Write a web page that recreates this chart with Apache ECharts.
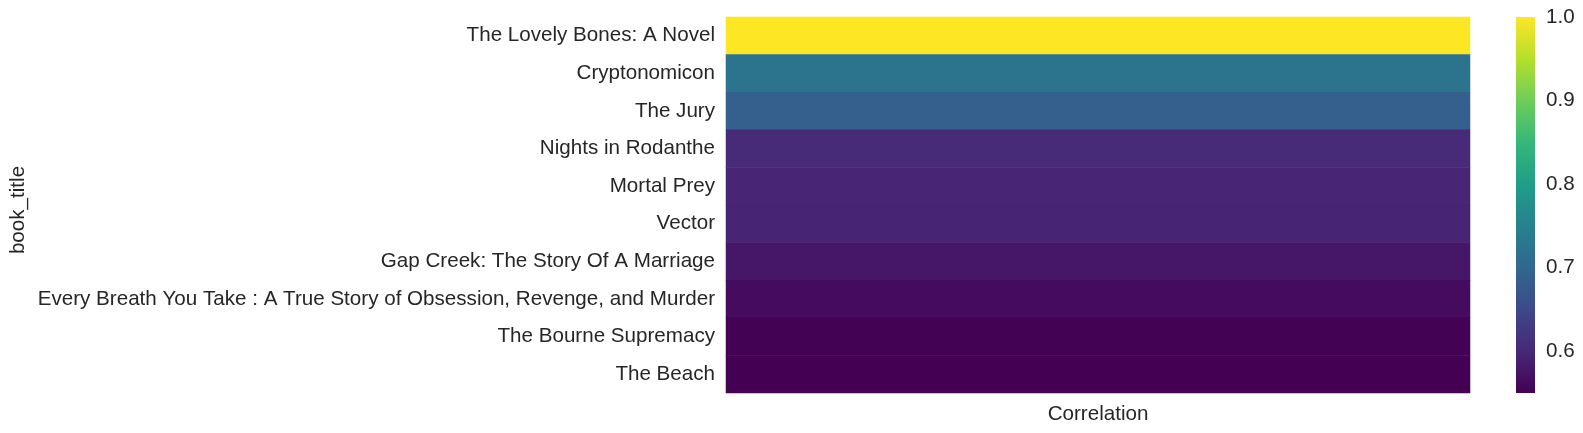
<!DOCTYPE html>
<html>
<head>
<meta charset="utf-8">
<script src="https://cdn.jsdelivr.net/npm/echarts@6/dist/echarts.min.js"></script>
<style>html,body{margin:0;padding:0;background:#fff}#c{width:1583px;height:433px}</style>
</head>
<body>
<div id="c"></div>
<script>
const columns = ['Correlation'];
const bookTitles = [
  'The Lovely Bones: A Novel',
  'Cryptonomicon',
  'The Jury',
  'Nights in Rodanthe',
  'Mortal Prey',
  'Vector',
  'Gap Creek: The Story Of A Marriage',
  'Every Breath You Take : A True Story of Obsession, Revenge, and Murder',
  'The Bourne Supremacy',
  'The Beach'
];
const correlation = [1.0, 0.722, 0.686, 0.604, 0.596, 0.594, 0.578, 0.563, 0.551, 0.550];
const colorbarTicks = [0.6, 0.7, 0.8, 0.9, 1.0];
const scaleMin = 0.5497;
const scaleMax = 1.0;
const viridis = ['#440154','#482878','#3e4989','#31688e','#26828e','#1f9e89','#35b779','#6ece58','#b5de2b','#fde725'];

const heatData = correlation.map((v, i) => [0, i, v]);
const txt = '#262626';
const font = 'Liberation Sans, Arial, sans-serif';
const fs = 20.6;

const chart = echarts.init(document.getElementById('c'), null, {renderer: 'canvas'});
chart.setOption({
  backgroundColor: '#fff',
  animation: false,
  grid: [
    {left: 726, right: 113, top: 17, bottom: 40, containLabel: false},
    {left: 1516, width: 19, top: 17, height: 376, containLabel: false}
  ],
  xAxis: [
    {gridIndex: 0, type: 'category', data: columns, axisLine: {show: false}, axisTick: {show: false},
     splitLine: {show: false}, axisLabel: {color: txt, fontSize: fs, fontFamily: font, margin: 11}},
    {gridIndex: 1, type: 'value', show: false, min: 0, max: 1}
  ],
  yAxis: [
    {gridIndex: 0, type: 'category', data: bookTitles, inverse: true, axisLine: {show: false},
     axisTick: {show: false}, splitLine: {show: false},
     axisLabel: {color: txt, fontSize: fs, fontFamily: font, margin: 11, padding: [6, 0, 0, 0]}},
    {gridIndex: 1, type: 'value', position: 'right', min: scaleMin, max: scaleMax,
     axisLine: {show: false}, splitLine: {show: false},
     axisTick: {show: true, length: 5, lineStyle: {color: txt, width: 1}, customValues: colorbarTicks},
     axisLabel: {color: txt, fontSize: fs, fontFamily: font, margin: 11, customValues: colorbarTicks,
                 padding: [6, 0, 0, 0], formatter: v => v.toFixed(1)}}
  ],
  visualMap: {
    type: 'continuous', min: scaleMin, max: scaleMax, seriesIndex: 0, show: false,
    inRange: {color: viridis}
  },
  series: [
    {type: 'heatmap', xAxisIndex: 0, yAxisIndex: 0, data: heatData, itemStyle: {borderWidth: 0}},
    {type: 'custom', xAxisIndex: 1, yAxisIndex: 1, data: [[0, scaleMin, 1, scaleMax]], silent: true,
     renderItem: function (params, api) {
       const p0 = api.coord([api.value(0), api.value(3)]);
       const p1 = api.coord([api.value(2), api.value(1)]);
       const stops = viridis.map((c, i) => ({offset: i / (viridis.length - 1), color: c}));
       return {
         type: 'rect',
         shape: {x: p0[0], y: p0[1], width: p1[0] - p0[0], height: p1[1] - p0[1]},
         style: {fill: new echarts.graphic.LinearGradient(0, 1, 0, 0, stops)}
       };
     }}
  ],
  graphic: [
    {type: 'text', x: 18, y: 210, rotation: Math.PI / 2,
     style: {text: 'book_title', fill: txt, font: fs + 'px ' + font, align: 'center', verticalAlign: 'middle'}}
  ]
});
</script>
</body>
</html>
